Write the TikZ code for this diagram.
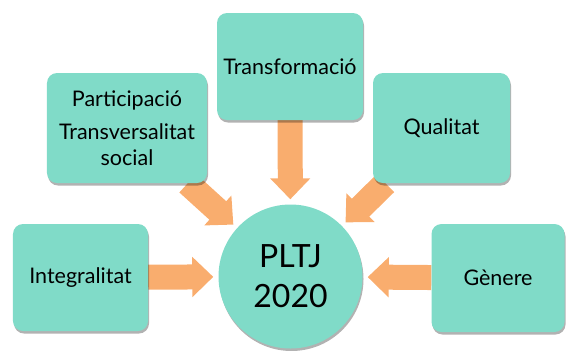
\documentclass[tikz,border=0pt]{standalone}
\usepackage{fontspec}
\setmainfont{Lato}
\usepackage{xcolor}
\usepackage{tikz}
\usetikzlibrary{arrows.meta, shadows, backgrounds}

\definecolor{boxteal}{RGB}{128,219,200}
\definecolor{arroworange}{RGB}{249,173,110}

\begin{document}
\begin{tikzpicture}[x=1bp, y=-1bp,
        box/.style={rectangle, rounded corners=10bp, fill=boxteal, align=center,
            font=\fontsize{21.5bp}{26bp}\selectfont,
            drop shadow={shadow xshift=1bp, shadow yshift=-2.5bp, opacity=0.3, fill=black}},
        fatarrow/.style={draw=arroworange, line width=25bp, shorten >=5bp,
            -{Triangle[width=39bp, length=21bp]}}]
            \useasboundingbox (0,0) rectangle (566,350);
            \node[box, minimum width=146bp, minimum height=107bp] (transf) at (290,66.5) {Transformació};
            \node[box, minimum width=160bp, minimum height=110bp] (partic) at (127,128)
                {Participació\\[7bp]Transversalitat\\social};
            \node[box, minimum width=137bp, minimum height=110bp] (qualit) at (441.5,128) {Qualitat};
            \node[box, minimum width=135bp, minimum height=107bp] (integr) at (80.5,277.5) {Integralitat};
            \node[box, minimum width=133bp, minimum height=108bp] (genere) at (498,278) {Gènere};
            \node[circle, fill=boxteal, minimum size=144bp, align=center,
                font=\fontsize{32bp}{40bp}\selectfont,
                drop shadow={shadow xshift=1bp, shadow yshift=-2.5bp, opacity=0.3, fill=black}]
                (pltj) at (290.5,276.5) {PLTJ\\2020};
            \begin{scope}[on background layer]
                \draw[fatarrow] (transf) -- (pltj);
                \draw[fatarrow] (partic) -- (pltj);
                \draw[fatarrow] (qualit) -- (pltj);
                \draw[fatarrow] (integr) -- (pltj);
                \draw[fatarrow] (genere) -- (pltj);
            \end{scope}
        \end{tikzpicture}
\end{document}
